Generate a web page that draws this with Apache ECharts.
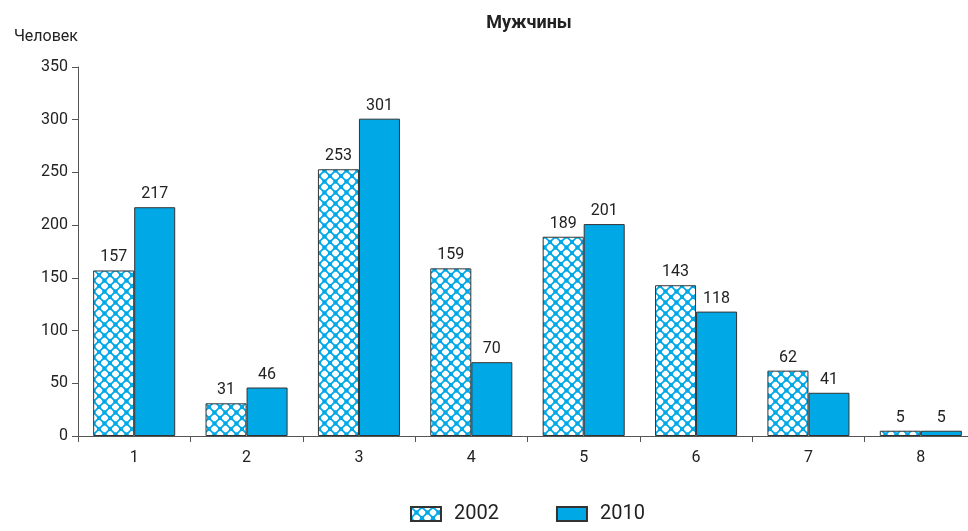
<!DOCTYPE html>
<html>
<head>
<meta charset="utf-8">
<title>Мужчины</title>
<script src="https://cdn.jsdelivr.net/npm/echarts@6/dist/echarts.min.js"></script>
<style>
  html, body { margin: 0; padding: 0; background: #fff; }
</style>
</head>
<body>
<div id="main" style="width: 968px;height:531px;"></div>
<script type="text/javascript">
var categories = ['1', '2', '3', '4', '5', '6', '7', '8'];
var values2002 = [157, 31, 253, 159, 189, 143, 62, 5];
var values2010 = [217, 46, 301, 70, 201, 118, 41, 5];
var seriesNames = ['2002', '2010'];

var blue = '#00a8e6';

// узор для 2002 года: белые ромбы, синяя сетка
function makePattern() {
  var s = 11;
  var c = document.createElement('canvas');
  c.width = s;
  c.height = s;
  var ctx = c.getContext('2d');
  ctx.fillStyle = '#ffffff';
  ctx.fillRect(0, 0, s, s);
  ctx.strokeStyle = blue;
  ctx.lineWidth = 1.7;
  ctx.beginPath();
  for (var k = -1; k <= 1; k++) {
    ctx.moveTo(k * s, 0); ctx.lineTo(k * s + s, s);
    ctx.moveTo(k * s + s, 0); ctx.lineTo(k * s, s);
  }
  ctx.stroke();
  ctx.fillStyle = blue;
  var pts = [[0, 0], [s, 0], [0, s], [s, s], [s / 2, s / 2]];
  pts.forEach(function (p) {
    ctx.beginPath();
    ctx.arc(p[0], p[1], 2.2, 0, Math.PI * 2);
    ctx.fill();
  });
  return c;
}

var myChart = echarts.init(document.getElementById('main'));
var labelStyle = { show: true, position: 'top', color: '#222', fontFamily: 'Roboto', fontSize: 16, distance: 5 };

var option = {
  animation: false,
  title: {
    text: 'Мужчины',
    left: 524,
    textAlign: 'center',
    top: 9,
    textStyle: { fontFamily: 'Roboto', fontWeight: 'bold', fontSize: 18, color: '#222' }
  },
  legend: {
    bottom: 2,
    left: 405,
    icon: 'rect',
    itemWidth: 30,
    itemHeight: 14,
    itemGap: 57,
    textStyle: { fontFamily: 'Roboto', fontSize: 20, color: '#222', padding: [0, 0, 0, 8] },
    data: seriesNames
  },
  grid: { left: 78, top: 67, width: 899, height: 369, containLabel: false, outerBoundsMode: 'none' },
  xAxis: {
    type: 'category',
    data: categories,
    axisLine: { lineStyle: { color: '#555', width: 1 } },
    axisTick: { show: true, length: 6, lineStyle: { color: '#555' } },
    axisLabel: { color: '#222', fontFamily: 'Roboto', fontSize: 16, margin: 14 }
  },
  yAxis: {
    type: 'value',
    min: 0,
    max: 350,
    interval: 50,
    name: 'Человек',
    nameLocation: 'end',
    nameGap: 22,
    nameTextStyle: { color: '#222', fontFamily: 'Roboto', fontSize: 16, align: 'right', padding: [0, 0, 0, 0] },
    axisLine: { show: true, lineStyle: { color: '#555', width: 1 } },
    axisTick: { show: true, length: 6, lineStyle: { color: '#555' } },
    axisLabel: { color: '#222', fontFamily: 'Roboto', fontSize: 16, margin: 10 },
    splitLine: { show: false }
  },
  series: [{
    name: seriesNames[0],
    type: 'bar',
    data: values2002,
    barGap: '0%',
    barCategoryGap: '27%',
    itemStyle: { color: { image: makePattern(), repeat: 'repeat' }, borderColor: '#333', borderWidth: 1 },
    label: labelStyle
  }, {
    name: seriesNames[1],
    type: 'bar',
    data: values2010,
    itemStyle: { color: blue, borderColor: '#333', borderWidth: 1 },
    label: labelStyle
  }]
};

myChart.setOption(option);
</script>
</body>
</html>
